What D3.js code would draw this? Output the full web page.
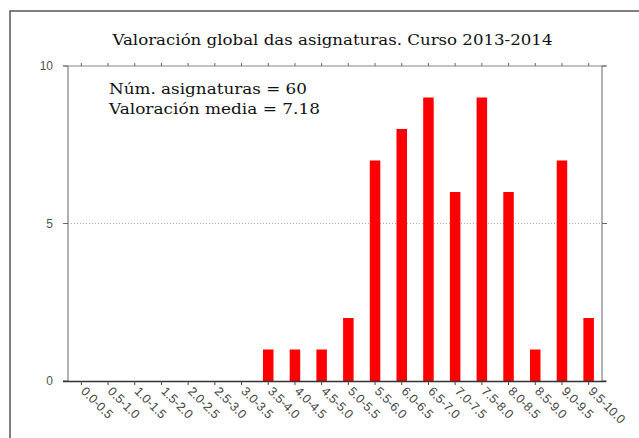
<!DOCTYPE html>
<html><head><meta charset="utf-8">
<script src="https://cdn.jsdelivr.net/npm/d3@7"></script>
<style>body{margin:0;background:#fff;} svg{display:block;}</style>
</head><body>
<script>
const categories = ["0.0-0.5","0.5-1.0","1.0-1.5","1.5-2.0","2.0-2.5","2.5-3.0","3.0-3.5","3.5-4.0","4.0-4.5","4.5-5.0","5.0-5.5","5.5-6.0","6.0-6.5","6.5-7.0","7.0-7.5","7.5-8.0","8.0-8.5","8.5-9.0","9.0-9.5","9.5-10.0"];
const counts = [0,0,0,0,0,0,0,1,1,1,2,7,8,9,6,9,6,1,7,2];
const yTicks = [0,5,10];
const titleText = "Valoración global das asignaturas. Curso 2013-2014";
const notes = ["Núm. asignaturas = 60","Valoración media = 7.18"];

const W = 639, H = 438;
const L = 68, R = 602, T = 66, B = 381;
const svg = d3.select("body").append("svg").attr("width", W).attr("height", H);

// outer frame
svg.append("rect").attr("x",10).attr("y",11).attr("width",W).attr("height",H)
  .attr("fill","none").attr("stroke","#555").attr("stroke-width",1.5);

const x = d3.scaleBand().domain(categories).range([L,R]).paddingInner(0).paddingOuter(0);
const y = d3.scaleLinear().domain([0,10]).range([B,T]);

// title
svg.append("text").attr("x",112.5).attr("y",45)
  .attr("font-family","DejaVu Serif").attr("font-size",15).attr("fill","#111")
  .attr("textLength",440).attr("lengthAdjust","spacingAndGlyphs")
  .text(titleText);

// gridline at 5
svg.append("line").attr("x1",L).attr("x2",R).attr("y1",y(5)).attr("y2",y(5))
  .attr("stroke","#aaa").attr("stroke-dasharray","1,2");

// bars
const bw = 10.5;
svg.append("g").selectAll("rect").data(counts).join("rect")
  .attr("x",(d,i)=>x(categories[i]) + x.bandwidth()/2 - bw/2)
  .attr("y",d=>y(d)).attr("width",bw).attr("height",d=>y(0)-y(d))
  .attr("fill","#ff0000");

// left & right axis lines
svg.append("line").attr("x1",L).attr("x2",L).attr("y1",T).attr("y2",B).attr("stroke","#999").attr("stroke-width",1.5);
svg.append("line").attr("x1",R).attr("x2",R).attr("y1",T).attr("y2",B).attr("stroke","#999").attr("stroke-width",1.5);
// top line
svg.append("line").attr("x1",63).attr("x2",606).attr("y1",T).attr("y2",T).attr("stroke","#888").attr("stroke-width",1.2);

// top ticks (upward)
svg.append("g").selectAll("line").data(categories).join("line")
  .attr("x1",d=>x(d)+x.bandwidth()/2).attr("x2",d=>x(d)+x.bandwidth()/2)
  .attr("y1",T).attr("y2",T-3).attr("stroke","#666");

// y ticks both sides
yTicks.forEach(v=>{
  svg.append("line").attr("x1",63).attr("x2",L).attr("y1",y(v)).attr("y2",y(v)).attr("stroke","#666");
  svg.append("line").attr("x1",R).attr("x2",607).attr("y1",y(v)).attr("y2",y(v)).attr("stroke","#666");
  svg.append("text").attr("x",53).attr("y",y(v)).attr("dy","0.35em").attr("text-anchor","end")
    .attr("font-family","Liberation Sans, Arial, sans-serif").attr("font-size",12).attr("fill","#555")
    .text(v);
});

// bottom axis
const xAxis = d3.axisBottom(x).tickSize(4).tickSizeOuter(0);
const gx = svg.append("g").attr("transform",`translate(0,${B})`).call(xAxis);
gx.select(".domain").attr("d",`M63,0.5H606`).attr("stroke","#333").attr("stroke-width",1.3);
gx.selectAll(".tick line").attr("stroke","#444");
gx.selectAll(".tick text")
  .attr("font-family","Liberation Sans, Arial, sans-serif").attr("font-size",12.5).attr("fill","#444")
  .attr("text-anchor","start").attr("dy",null).attr("y",null)
  .attr("transform","translate(-1,11) rotate(45)");

// notes
const noteLens = [198, 211];
notes.forEach((t,i)=>{
  svg.append("text").attr("x",109).attr("y",94+i*20)
    .attr("font-family","DejaVu Serif").attr("font-size",15).attr("fill","#111")
    .attr("textLength",noteLens[i]).attr("lengthAdjust","spacingAndGlyphs").text(t);
});
</script>
</body></html>
